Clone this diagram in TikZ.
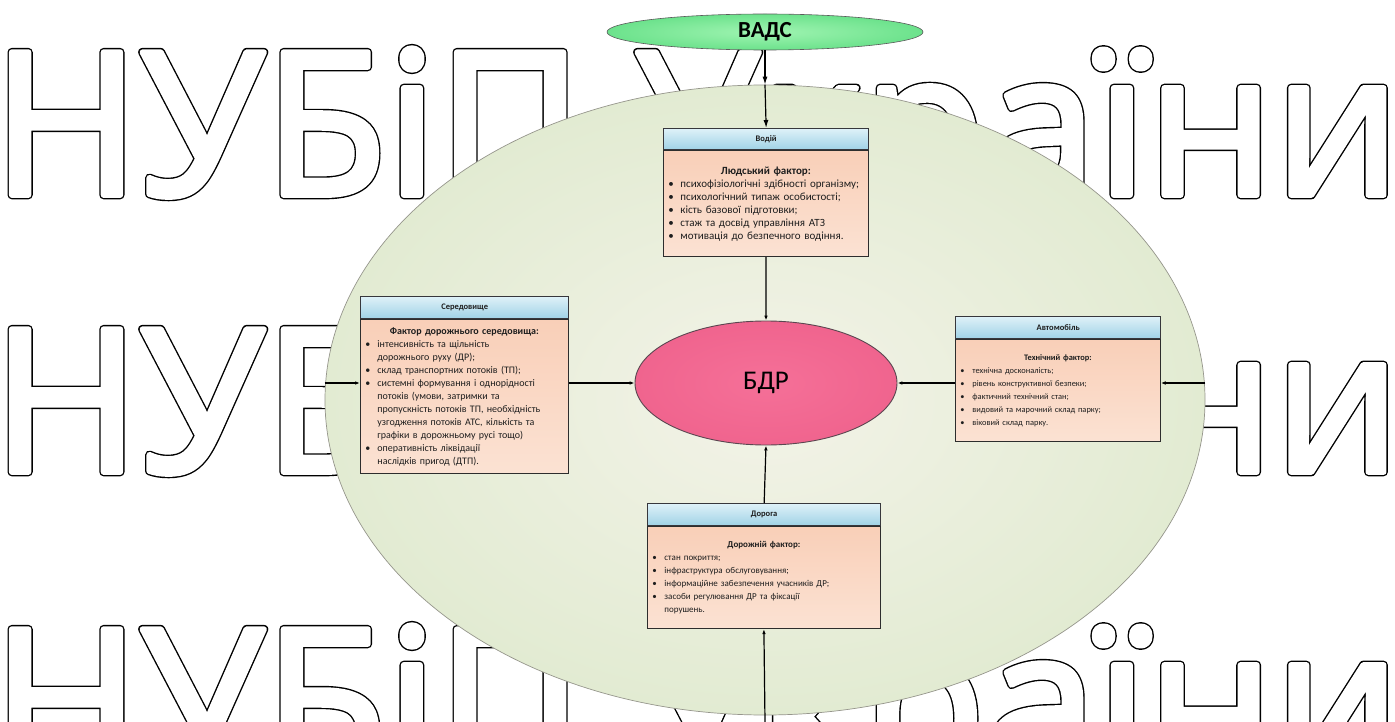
\documentclass[tikz,border=0pt]{standalone}
\usepackage{fontspec}
\setmainfont{Carlito}
\newfontfamily\wmfont{Open Sans}
\usetikzlibrary{shapes.geometric,arrows.meta}

\definecolor{txt}{RGB}{30,30,30}
\definecolor{bigin}{RGB}{243,243,232}
\definecolor{bigout}{RGB}{226,235,210}
\definecolor{bigline}{RGB}{150,150,140}
\definecolor{vadsin}{RGB}{160,244,178}
\definecolor{vadsout}{RGB}{108,226,140}
\definecolor{vadsline}{RGB}{90,90,90}
\definecolor{bdrin}{RGB}{245,112,152}
\definecolor{bdrout}{RGB}{240,100,142}
\definecolor{bdrline}{RGB}{90,70,80}
\definecolor{hdrline}{RGB}{55,55,60}
\definecolor{hdrtop}{RGB}{222,241,248}
\definecolor{hdrbot}{RGB}{160,210,230}
\definecolor{bodyline}{RGB}{45,45,45}
\definecolor{bodytop}{RGB}{249,207,184}
\definecolor{bodybot}{RGB}{251,226,211}

% outlined watermark text: black dilated glyphs, then white slightly less dilated glyphs
\newcommand\outl[1]{\rlap{\special{pdf:literal direct 2 Tr 8.6 w 1 j}#1}{\color{white}\special{pdf:literal direct 2 Tr 5.8 w 1 j}#1}\special{pdf:literal direct 0 Tr}}
\newcommand\bitem[1]{\par\noindent\hangindent=13pt\hangafter=1\makebox[13pt][l]{\hspace{1pt}\textbullet}#1\par}
\newcommand\btitle[1]{{\centering\bfseries #1\par}}

\tikzset{
  wm/.style={font=\wmfont\fontsize{200}{200}\selectfont, inner sep=0pt, anchor=base west},
  bigell/.style={ellipse, inner sep=0pt, minimum width=880pt, minimum height=630pt,
     draw=bigline, line width=0.7pt, inner color=bigin, outer color=bigout},
  vads/.style={ellipse, inner sep=0pt, minimum width=316pt, minimum height=36pt,
     draw=vadsline, line width=0.6pt, inner color=vadsin, outer color=vadsout,
     font=\bfseries\fontsize{23}{24}\selectfont},
  bdr/.style={ellipse, inner sep=0pt, minimum width=262pt, minimum height=124pt,
     draw=bdrline, line width=0.9pt, inner color=bdrin, outer color=bdrout,
     font=\fontsize{27}{28}\selectfont},
  hdr/.style={rectangle, inner sep=0pt, anchor=north west, minimum height=21pt,
     draw=hdrline, line width=1.3pt, top color=hdrtop, bottom color=hdrbot,
     font=\bfseries\fontsize{8.5}{10}\selectfont, text=txt},
  bodybox/.style={rectangle, inner xsep=4pt, inner ysep=0pt, anchor=north west, align=left,
     draw=bodyline, line width=0.8pt, top color=bodytop, bottom color=bodybot, text=txt},
  conn/.style={line width=1.2pt, black, -{Latex[length=5pt,width=3.6pt]}},
  bigconn/.style={line width=1.2pt, black, -{Latex[length=8pt,width=5pt]}},
}

\begin{document}
\begin{tikzpicture}[x=1pt,y=-1pt]
\useasboundingbox (0,0) rectangle (1395,722);
\fill[white] (0,0) rectangle (1395,722);

% watermark
\node[wm] (wm1) at (-8,195) {\outl{НУБіП України}};
\node[wm] (wm2) at (-8,472) {\outl{НУБіП України}};
\node[wm] (wm3) at (-8,772) {\outl{НУБіП України}};

% big ellipse
\node[bigell] (big) at (765,400) {};

% VADS
\node[vads] (vads) at (765,32) {ВАДС};

% BDR
\node[bdr] (bdr) at (766,383) {БДР};

% Водій
\node[hdr, minimum width=205pt] (vh) at (663,128) {Водій};
\node[bodybox, text width=197pt, minimum height=106pt, font=\fontsize{11}{13}\selectfont] (vb) at (vh.south west) {%
\btitle{Людський фактор:}%
\bitem{психофізіологічні здібності організму;}%
\bitem{психологічний типаж особистості;}%
\bitem{кість базової підготовки;}%
\bitem{стаж та досвід управління АТЗ}%
\bitem{мотивація до безпечного водіння.}};

% Середовище
\node[hdr, minimum width=208pt, minimum height=22pt] (sh) at (360,296) {Середовище};
\node[bodybox, text width=200pt, minimum height=154pt, font=\fontsize{10}{13}\selectfont] (sb) at (sh.south west) {%
\btitle{Фактор дорожнього середовища:}%
\bitem{інтенсивність та щільність\newline дорожнього руху (ДР);}%
\bitem{склад транспортних потоків (ТП);}%
\bitem{системні формування і однорідності\newline потоків (умови, затримки та\newline пропускність потоків ТП, необхідність\newline узгодження потоків АТС, кількість та\newline графіки в дорожньому русі тощо)}%
\bitem{оперативність ліквідації\newline наслідків пригод (ДТП).}};

% Автомобіль
\node[hdr, minimum width=205pt, minimum height=22pt] (ah) at (955,316) {Автомобіль};
\node[bodybox, text width=197pt, minimum height=102pt, font=\fontsize{8.4}{13}\selectfont] (ab) at (ah.south west) {%
\btitle{Технічний фактор:}%
\bitem{технічна досконалість;}%
\bitem{рівень конструктивної безпеки;}%
\bitem{фактичний технічний стан;}%
\bitem{видовий та марочний склад парку;}%
\bitem{віковий склад парку.}};

% Дорога
\node[hdr, minimum width=233pt, minimum height=22pt] (dh) at (647,503) {Дорога};
\node[bodybox, text width=225pt, minimum height=102pt, font=\fontsize{9}{13}\selectfont] (db) at (dh.south west) {%
\btitle{Дорожній фактор:}%
\bitem{стан покриття;}%
\bitem{інфраструктура обслуговування;}%
\bitem{інформаційне забезпечення учасників ДР;}%
\bitem{засоби регулювання ДР та фіксації\newline порушень.}};

% connectors
\coordinate (bottomend) at (765,722);
\draw[bigconn] (vads.south) -- (big.north);
\draw[bigconn] (big.north) -- (vh.north);
\draw[conn] (vb.south) -- (bdr.north);
\draw[conn] (big.west |- bdr.west) -- (sb.west |- bdr.west);
\draw[conn] (sb.east |- bdr.west) -- (bdr.west);
\draw[conn] (big.east |- bdr.east) -- (ab.east |- bdr.east);
\draw[conn] (ab.west |- bdr.east) -- (bdr.east);
\draw[conn] (dh.north) -- (bdr.south);
\draw[conn] (bottomend) -- (db.south);
\end{tikzpicture}
\end{document}
